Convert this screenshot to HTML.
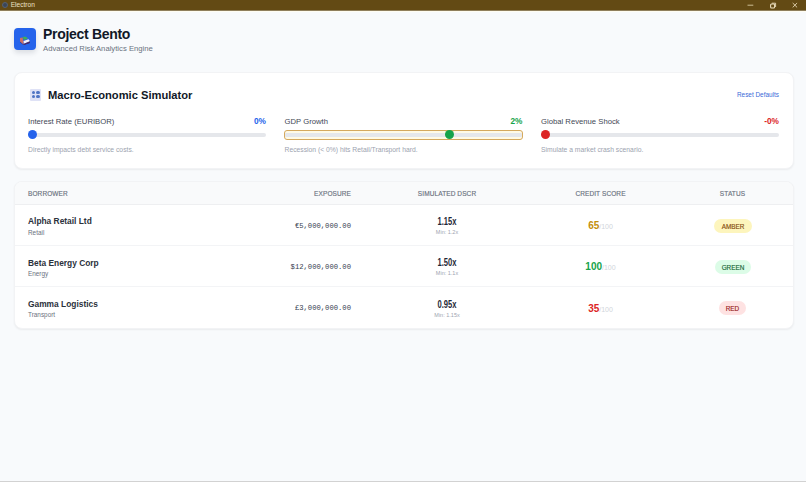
<!DOCTYPE html>
<html><head><meta charset="utf-8">
<style>
*{box-sizing:border-box;margin:0;padding:0}
html,body{width:806px;height:482px;overflow:hidden;background:#f8fafc;font-family:"Liberation Sans",sans-serif;color:#1e293b}
.abs{position:absolute;white-space:nowrap;line-height:1}
.tb{position:absolute;left:0;top:0;width:806px;height:10px;background:#634a14;box-shadow:0 1px 0 #8f7f5c,0 2px 0 #fffdf3}
.tb .t{position:absolute;left:10.7px;top:1.9px;font-size:6.6px;line-height:1;color:#ece0c4}
.tb .ic{position:absolute;left:1.5px;top:2px;width:6px;height:6px;border-radius:50%;background:#3a4658;border:1px solid #566173}
.logo{position:absolute;left:14px;top:28px;width:22px;height:22px;border-radius:4px;background:#2563eb;box-shadow:0 3px 5px rgba(30,41,59,.13)}
.card{position:absolute;background:#fff;border:1px solid #f2f3f5;border-radius:8px;box-shadow:0 1px 2px rgba(0,0,0,.06)}
.c1{left:14px;top:72px;width:780px;height:97px}
.c2{left:14px;top:180.5px;width:780px;height:148px;overflow:hidden}
.lbl{font-size:7.7px;color:#3f4855}
.val{font-size:8.3px;font-weight:bold}
.help{font-size:6.77px;color:#9ca3af}
.track{position:absolute;height:4px;border-radius:2px;background:#e5e7eb}
.thumb{position:absolute;width:9px;height:9px;border-radius:50%}
.th{font-size:6.5px;color:#6b7280;letter-spacing:.1px;-webkit-text-stroke:.15px #6b7280}
.nm{font-size:8.4px;font-weight:bold;color:#2b313b}
.sec{font-size:6.4px;color:#6b7280}
.mono{font-family:"Liberation Mono",monospace;font-size:7.2px;color:#374151}
.ds{font-size:10px;font-weight:bold;color:#1f2937;transform:scaleX(.76);transform-origin:50% 0}
.mn{font-size:5.5px;color:#9ca3af}
.sc{font-size:10px;font-weight:bold}
.sc span{font-size:7px;font-weight:normal;color:#d1d5db}
.pill{position:absolute;height:14px;border-radius:7px;font-size:6.4px;font-weight:normal;-webkit-text-stroke:.15px currentColor;line-height:15.2px;text-align:center}
</style></head><body>
<div class="tb"><div class="ic"></div><div class="t">Electron</div>
<svg width="806" height="10" style="position:absolute;left:0;top:0">
<line x1="747.5" y1="5.2" x2="753.3" y2="5.2" stroke="#d9c9a3" stroke-width=".9"/>
<rect x="770.6" y="4" width="4" height="4" rx="1" fill="none" stroke="#eadcbc" stroke-width="1.1"/>
<path d="M771.8 3.2 H775.6 V7" fill="none" stroke="#eadcbc" stroke-width=".9"/>
<path d="M792.7 3 L797.1 7.4 M797.1 3 L792.7 7.4" stroke="#e6d8b6" stroke-width=".9"/>
</svg></div>

<div class="logo"><svg width="22" height="22" viewBox="0 0 22 22" style="position:absolute;left:0;top:0">
<polygon points="6.5,13.5 9.5,16.5 16,14 16,15 9.5,17 6,14" fill="#3b1a4a"/>
<polygon points="6,10 8.5,9.5 9.5,13 9.5,16.5 6,13.5" fill="#cf6e62"/>
<polygon points="8.3,9.2 11.5,8.6 14,10.5 10.5,12" fill="#3fae5a"/>
<polygon points="9.5,13 14.5,11.2 16,13.2 10,15.8" fill="#f4f1f8"/>
<polygon points="10,15.8 16,13.2 16,14.5 10,17" fill="#4b2a6a"/>
</svg></div>
<div class="abs" style="left:43px;top:26.9px;font-size:14px;letter-spacing:-.3px;font-weight:bold;color:#111827">Project Bento</div>
<div class="abs" style="left:43px;top:45.3px;font-size:7.7px;color:#6b7280">Advanced Risk Analytics Engine</div>

<div class="card c1"></div>
<div class="abs" style="left:30px;top:89px;width:10.5px;height:11.5px;background:#dfe2f6;border-radius:1px"></div>
<div class="abs" style="left:31.5px;top:91px;width:3.2px;height:3.2px;border-radius:50%;background:#4f74c4"></div>
<div class="abs" style="left:36.4px;top:91px;width:3.2px;height:3.2px;border-radius:50%;background:#4f74c4"></div>
<div class="abs" style="left:31.5px;top:95.3px;width:3.2px;height:3.2px;border-radius:50%;background:#4f74c4"></div>
<div class="abs" style="left:36.4px;top:95.3px;width:3.2px;height:3.2px;border-radius:50%;background:#4f74c4"></div>
<div class="abs" style="left:48px;top:89.5px;font-size:11.17px;font-weight:bold;color:#111827">Macro-Economic Simulator</div>
<div class="abs" style="left:737px;top:91.7px;font-size:6.4px;color:#3b6ad8">Reset Defaults</div>

<div class="abs lbl" style="left:28px;top:117.6px">Interest Rate (EURIBOR)</div>
<div class="abs val" style="left:226px;width:40px;text-align:right;top:117px;color:#2563eb">0%</div>
<div class="track" style="left:28px;top:133px;width:238px"></div>
<div class="thumb" style="left:27.5px;top:130.2px;background:#2563eb"></div>
<div class="abs help" style="left:28px;top:147.3px">Directly impacts debt service costs.</div>

<div class="abs lbl" style="left:284.5px;top:117.6px">GDP Growth</div>
<div class="abs val" style="left:482px;width:40.5px;text-align:right;top:117px;color:#16a34a">2%</div>
<div class="abs" style="left:283.5px;top:130px;width:239.6px;height:10px;border:1.1px solid #d5a95e;background:#fffae6;border-radius:3px"></div>
<div class="track" style="left:285.3px;top:133px;width:236.5px;border-radius:1px"></div>
<div class="thumb" style="left:445px;top:130.3px;background:#16a34a"></div>
<div class="abs help" style="left:284.5px;top:147.3px">Recession (&lt; 0%) hits Retail/Transport hard.</div>

<div class="abs lbl" style="left:541px;top:117.6px">Global Revenue Shock</div>
<div class="abs val" style="left:739px;width:40px;text-align:right;top:117px;color:#dc2626">-0%</div>
<div class="track" style="left:541px;top:133px;width:238px"></div>
<div class="thumb" style="left:541px;top:130px;background:#dc2626"></div>
<div class="abs help" style="left:541px;top:147.3px">Simulate a market crash scenario.</div>

<div class="card c2">
  <div style="position:absolute;left:0;top:0;width:100%;height:23.5px;background:#f9fafb;border-bottom:1px solid #eeeff1"></div>
  <div style="position:absolute;left:0;top:63.5px;width:100%;height:1px;background:#f3f4f6"></div>
  <div style="position:absolute;left:0;top:104.8px;width:100%;height:1px;background:#f3f4f6"></div>
</div>

<div class="abs th" style="left:28px;top:191.4px">BORROWER</div>
<div class="abs th" style="left:251px;width:100px;text-align:right;top:191.4px">EXPOSURE</div>
<div class="abs th" style="left:397px;width:100px;text-align:center;top:191.4px">SIMULATED DSCR</div>
<div class="abs th" style="left:550.5px;width:100px;text-align:center;top:191.4px">CREDIT SCORE</div>
<div class="abs th" style="left:682.5px;width:100px;text-align:center;top:191.4px">STATUS</div>

<!-- row 1 -->
<div class="abs nm" style="left:28px;top:217.3px">Alpha Retail Ltd</div>
<div class="abs sec" style="left:28px;top:229.8px">Retail</div>
<div class="abs mono" style="left:251px;width:100px;text-align:right;top:222.7px">€5,000,000.00</div>
<div class="abs ds" style="left:397px;width:100px;text-align:center;top:216.9px">1.15x</div>
<div class="abs mn" style="left:397px;width:100px;text-align:center;top:229.9px">Min: 1.2x</div>
<div class="abs sc" style="left:550.5px;width:100px;text-align:center;top:220.9px;color:#c48e0c">65<span>/100</span></div>
<div class="pill" style="left:714px;top:219px;width:38px;background:#fdf5bd;color:#854d0e">AMBER</div>

<!-- row 2 -->
<div class="abs nm" style="left:28px;top:258.6px">Beta Energy Corp</div>
<div class="abs sec" style="left:28px;top:271.1px">Energy</div>
<div class="abs mono" style="left:251px;width:100px;text-align:right;top:264px">$12,000,000.00</div>
<div class="abs ds" style="left:397px;width:100px;text-align:center;top:258.2px">1.50x</div>
<div class="abs mn" style="left:397px;width:100px;text-align:center;top:271.2px">Min: 1.1x</div>
<div class="abs sc" style="left:550.5px;width:100px;text-align:center;top:262.2px;color:#16a34a">100<span>/100</span></div>
<div class="pill" style="left:715px;top:260.3px;width:36px;background:#dcfce7;color:#166534">GREEN</div>

<!-- row 3 -->
<div class="abs nm" style="left:28px;top:299.9px">Gamma Logistics</div>
<div class="abs sec" style="left:28px;top:312.4px">Transport</div>
<div class="abs mono" style="left:251px;width:100px;text-align:right;top:305.3px">£3,000,000.00</div>
<div class="abs ds" style="left:397px;width:100px;text-align:center;top:299.5px">0.95x</div>
<div class="abs mn" style="left:397px;width:100px;text-align:center;top:312.5px">Min: 1.15x</div>
<div class="abs sc" style="left:550.5px;width:100px;text-align:center;top:303.5px;color:#dc2626">35<span>/100</span></div>
<div class="pill" style="left:719.2px;top:301.2px;width:26.4px;background:#fee2e2;color:#991b1b">RED</div>
<div style="position:absolute;left:0;top:481px;width:806px;height:1px;background:#d2d2d2"></div>
</body></html>
